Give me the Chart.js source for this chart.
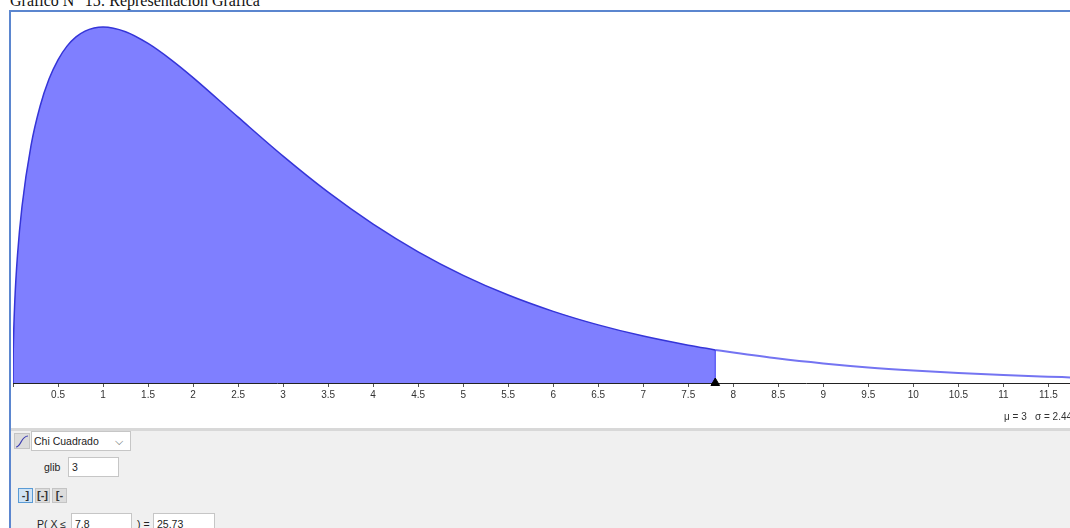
<!DOCTYPE html>
<html>
<head>
<meta charset="utf-8">
<script src="https://cdn.jsdelivr.net/npm/chart.js@4"></script>
<style>
  html, body { margin: 0; padding: 0; background: #fff; overflow: hidden; }
  body { width: 1070px; height: 528px; position: relative; font-family: "Liberation Sans", sans-serif; }
  #heading { position: absolute; left: 10px; top: -8px; font: 16px "Liberation Serif", serif; color: #111; white-space: nowrap; }
  #frame { position: absolute; left: 9px; top: 10px; width: 1061px; height: 518px; border-left: 2px solid #5b86cf; border-top: 2px solid #5b86cf; box-sizing: border-box; }
  #plot { position: absolute; left: 13px; top: 12px; width: 1057px; height: 416px; }
  #stats { position: absolute; left: 1004px; top: 411px; width: 66px; font-size: 10px; color: #333; white-space: pre; overflow: hidden; }
  #panel { position: absolute; left: 11px; top: 428px; width: 1059px; height: 100px; background: #f0f0f0; border-top: 3px solid #d8d8d8; box-sizing: border-box; font-size: 10.5px; color: #222; }
  .box { position: absolute; background: #fff; border: 1px solid #c6c6c6; box-sizing: border-box; height: 21px; line-height: 20px; padding-left: 3px; }
  .lbl { position: absolute; }
  .btn { position: absolute; width: 15px; height: 15px; top: 57px; background: #dcdcdc; border: 1px solid #c4c4c4; box-sizing: border-box; font: bold 11px/12px "Liberation Sans"; text-align: center; color: #333; white-space: nowrap; overflow: hidden; }
</style>
</head>
<body>
<div id="heading">Gráfico N° 15: Representación Gráfica</div>
<div id="frame"></div>
<div id="plot"><canvas id="chi-chart"></canvas></div>
<div id="stats">μ = 3   σ = 2.449</div>
<div id="panel">
  <div class="btn" style="left:3px;top:2px;width:16px;height:16px"><svg width="14" height="14" style="display:block"><path d="M1 13 C6 13 6 2 13 2" fill="none" stroke="#3a3ab0" stroke-width="1.2"/></svg></div>
  <div class="box" style="left:20px;top:0;width:100px;height:20px;padding-left:2px;line-height:19px">Chi Cuadrado<span style="position:absolute;right:7px;color:#666">⌵</span></div>
  <div class="lbl" style="left:33px;top:30px">glib</div>
  <div class="box" style="left:57px;top:26px;width:51px;height:20px;line-height:19px">3</div>
  <div class="btn" style="left:7px;background:#cfe3f5;border-color:#5a9bd5">-]</div>
  <div class="btn" style="left:24px">[-]</div>
  <div class="btn" style="left:41px">[-</div>
  <div class="lbl" style="left:26px;top:87px">P( X ≤</div>
  <div class="box" style="left:60px;top:82px;width:61px">7.8</div>
  <div class="lbl" style="left:126px;top:87px">) =</div>
  <div class="box" style="left:142px;top:82px;width:62px">25.73</div>
</div>
<script>
// curve
const curveX = [0, 0.001, 0.005, 0.02, 0.05, 0.1, 0.2, 0.3, 0.4, 0.5, 0.6, 0.7, 0.8, 0.9, 1, 1.25, 1.5, 1.75, 2, 2.5, 3, 3.5, 4, 4.5, 5, 5.5, 6, 6.5, 7, 7.5, 7.8, 8, 8.5, 9, 9.5, 10, 10.5, 11, 11.5, 11.75];
const curveY = [0, 0.0126, 0.028, 0.0557, 0.087, 0.120, 0.1614, 0.188, 0.2066, 0.2197, 0.229, 0.2353, 0.2392, 0.2413, 0.242, 0.2388, 0.2308, 0.220, 0.2076, 0.1807, 0.1542, 0.1297, 0.108, 0.0892, 0.0732, 0.0598, 0.0487, 0.0395, 0.0319, 0.0257, 0.0225, 0.0207, 0.0166, 0.0133, 0.0106, 0.0085, 0.0068, 0.0054, 0.0043, 0.0038];
const tickValues = [0, 0.5, 1, 1.5, 2, 2.5, 3, 3.5, 4, 4.5, 5, 5.5, 6, 6.5, 7, 7.5, 8, 8.5, 9, 9.5, 10, 10.5, 11, 11.5];
const tickLabels = ['', '0.5', '1', '1.5', '2', '2.5', '3', '3.5', '4', '4.5', '5', '5.5', '6', '6.5', '7', '7.5', '8', '8.5', '9', '9.5', '10', '10.5', '11', '11.5'];
const cutoff = 7.8;
const cutoffHeight = 0.0225;

const points = curveX.map((x, i) => ({ x, y: curveY[i] }));

new Chart(document.getElementById('chi-chart').getContext('2d'), {
  type: 'scatter',
  data: {
    datasets: [
      {
        // shaded area up to the cutoff
        data: points.filter(p => p.x <= cutoff),
        showLine: true,
        borderColor: '#3535d8',
        borderWidth: 1.5,
        backgroundColor: '#7f7fff',
        fill: 'origin',
        pointRadius: 0,
        cubicInterpolationMode: 'monotone',
        order: 3,
      },
      {
        data: points.filter(p => p.x >= cutoff),
        showLine: true,
        borderColor: '#7474f2',
        borderWidth: 2,
        pointRadius: 0,
        cubicInterpolationMode: 'monotone',
        order: 3,
      },
      {
        data: [{ x: cutoff, y: 0 }, { x: cutoff, y: cutoffHeight }],
        showLine: true,
        borderColor: '#3a3af0',
        borderWidth: 1,
        pointRadius: 0,
        order: 2,
      },
      {
        data: [{ x: cutoff, y: 0 }],
        pointStyle: 'triangle',
        pointRadius: 5,
        backgroundColor: '#000',
        borderColor: '#000',
        clip: false,
        order: 1,
      },
    ],
  },
  options: {
    responsive: true,
    maintainAspectRatio: false,
    animation: false,
    layout: { padding: 0, autoPadding: false },
    plugins: { legend: { display: false }, tooltip: { enabled: false } },
    scales: {
      x: {
        type: 'linear',
        min: 0,
        max: 11.74,
        afterBuildTicks(scale) { scale.ticks = tickValues.map(value => ({ value })); },
        afterFit(scale) {
          scale.height = 45;
          scale.paddingLeft = 0;
          scale.paddingRight = 0;
        },
        border: { color: '#222', width: 1 },
        grid: { drawOnChartArea: false, tickLength: 4, color: '#555' },
        ticks: {
          autoSkip: false,
          maxRotation: 0,
          padding: 2,
          color: '#333',
          font: { family: 'Liberation Sans', size: 10 },
          callback(value) { return tickLabels[tickValues.indexOf(value)]; },
        },
      },
      y: { display: false, min: 0, max: 0.2522 },
    },
  },
});
</script>
</body>
</html>
